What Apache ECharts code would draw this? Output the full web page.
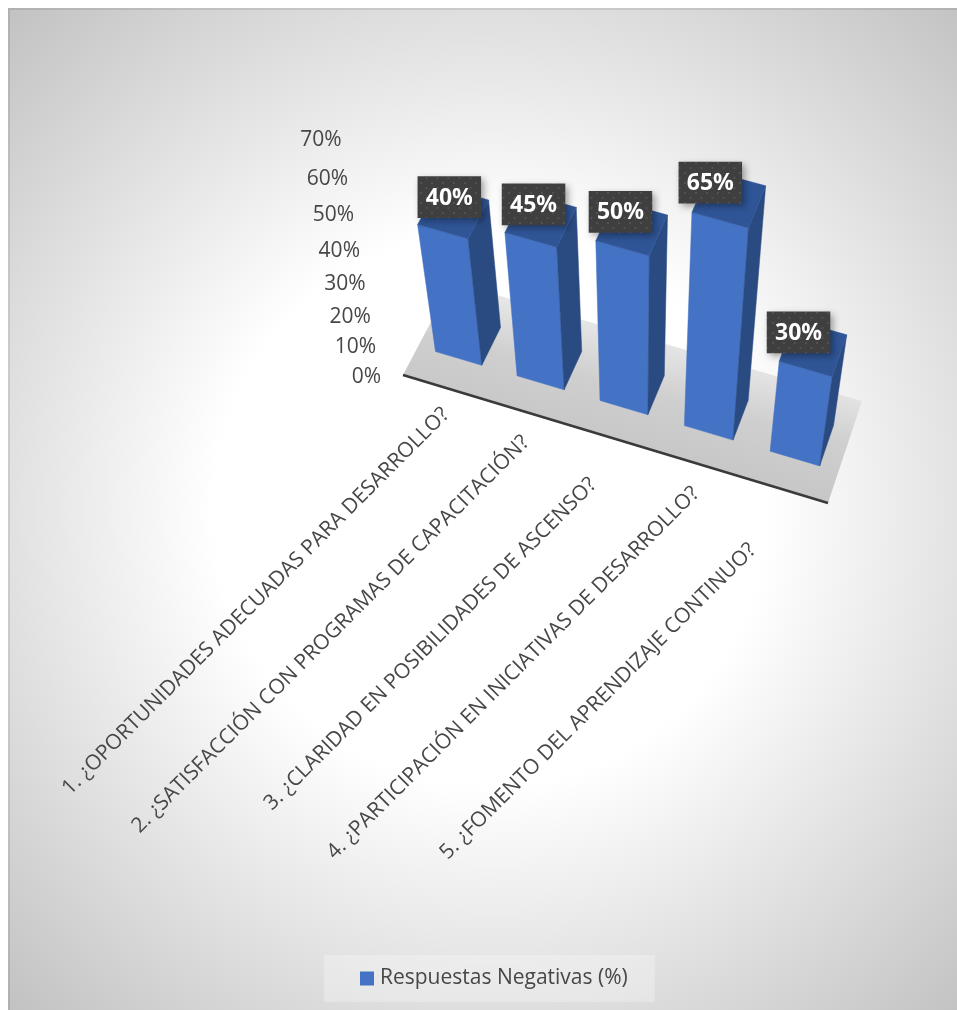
<!DOCTYPE html>
<html>
<head>
<meta charset="utf-8">
<style>
  html, body { margin: 0; padding: 0; background: #fff; }
  #chart { width: 957px; height: 1010px; }
</style>
<script src="https://cdn.jsdelivr.net/npm/echarts@6/dist/echarts.min.js"></script>
</head>
<body>
<div id="chart"></div>
<script>
// Chart data
const seriesName = 'Respuestas Negativas (%)';
const categories = [
  '1. ¿OPORTUNIDADES ADECUADAS PARA DESARROLLO?',
  '2. ¿SATISFACCIÓN CON PROGRAMAS DE CAPACITACIÓN?',
  '3. ¿CLARIDAD EN POSIBILIDADES DE ASCENSO?',
  '4. ¿PARTICIPACIÓN EN INICIATIVAS DE DESARROLLO?',
  '5. ¿FOMENTO DEL APRENDIZAJE CONTINUO?'
];
const negativeShare = [40, 45, 50, 65, 30];
const valueTicks = [0, 10, 20, 30, 40, 50, 60, 70];

// How far each category caption slides down its own slant, in pixels
const captionSlide = [0, 4, 28, 4, 47];
// Small hand placement of the value badges, in pixels
const badgeNudgeX = [0, 0, -1, -5, 1.5];
const badgeNudgeY = [1, 0, -1, -2, -1];

// Perspective camera: floor coordinates u, v and height z (all 0..1) to screen pixels
const CAMERA = [
  [390.61, 67.09, -92.0, 403],
  [107.11, -81.71, -257.0, 375],
  [-0.04153, 0.04003, -0.1446, 1]
];
function project(u, v, z) {
  const w = CAMERA[2][0] * u + CAMERA[2][1] * v + CAMERA[2][2] * z + CAMERA[2][3];
  return [
    (CAMERA[0][0] * u + CAMERA[0][1] * v + CAMERA[0][2] * z + CAMERA[0][3]) / w,
    (CAMERA[1][0] * u + CAMERA[1][1] * v + CAMERA[1][2] * z + CAMERA[1][3]) / w
  ];
}

// Read a category/value pair through the hidden axes, as fractions of the plot box
function toFractions(api, params, index, value) {
  const pt = api.coord([index, value]);
  const box = params.coordSys;
  return {
    u: (pt[0] - box.x) / box.width,
    z: (box.y + box.height - pt[1]) / box.height
  };
}

const BAR_HALF = 0.057;
const BAR_FRONT = 0.30;
const BAR_BACK = 0.70;
const FONT = '"Open Sans", "Noto Sans", sans-serif';
const BADGE_FONT = '"Noto Sans", "Open Sans", sans-serif';
const TEXT_COLOR = '#474747';

function face(points, fill) {
  return {
    type: 'polygon',
    shape: { points: points },
    style: { fill: fill, stroke: fill, lineWidth: 0.5 }
  };
}

function renderFloor() {
  const corners = [project(0, 0, 0), project(1, 0, 0), project(1, 1, 0), project(0, 1, 0)];
  return {
    type: 'group',
    children: [
      {
        type: 'polygon',
        shape: { points: corners },
        style: {
          fill: {
            type: 'linear', global: true,
            x: 640, y: 335, x2: 610, y2: 450,
            colorStops: [
              { offset: 0, color: '#e6e6e6' },
              { offset: 0.45, color: '#cfcfcf' },
              { offset: 1, color: '#c6c6c6' }
            ]
          }
        }
      },
      {
        type: 'line',
        shape: { x1: corners[0][0], y1: corners[0][1], x2: corners[1][0], y2: corners[1][1] },
        style: { stroke: '#3a3a3a', lineWidth: 2.6 }
      }
    ]
  };
}

function renderBar(params, api) {
  const i = api.value(0);
  const f = toFractions(api, params, i, api.value(1));
  const u0 = f.u - BAR_HALF, u1 = f.u + BAR_HALF;
  const top = [
    project(u0, BAR_FRONT, f.z), project(u1, BAR_FRONT, f.z),
    project(u1, BAR_BACK, f.z), project(u0, BAR_BACK, f.z)
  ];
  const foot = [
    project(u0, BAR_FRONT, 0), project(u1, BAR_FRONT, 0), project(u1, BAR_BACK, 0)
  ];
  return {
    type: 'group',
    children: [
      face([top[0], top[1], foot[1], foot[0]], api.visual('color')),
      face([top[1], top[2], foot[2], foot[1]], '#2a4a82'),
      face(top, '#2f5597')
    ]
  };
}

// Dotted fill for the value badges
const dotTile = document.createElement('canvas');
dotTile.width = 11;
dotTile.height = 10;
(function () {
  const ctx = dotTile.getContext('2d');
  ctx.fillStyle = '#3f3f3f';
  ctx.fillRect(0, 0, 11, 10);
  ctx.fillStyle = '#515151';
  ctx.fillRect(2, 2, 2, 2);
  ctx.fillRect(7.5, 7, 2, 2);
})();

function renderBadge(params, api) {
  const i = api.value(0);
  const value = api.value(1);
  const f = toFractions(api, params, i, value);
  const anchor = project(f.u, BAR_FRONT, f.z);
  const cx = anchor[0] + 8.5 - 19 * f.u + badgeNudgeX[i];
  const cy = anchor[1] - 35.5 + badgeNudgeY[i];
  const w = 63.5, h = 41.7;
  return {
    type: 'group',
    children: [
      {
        type: 'rect',
        shape: { x: cx - w / 2, y: cy - h / 2, width: w, height: h },
        style: {
          fill: { image: dotTile, repeat: 'repeat' },
          shadowBlur: 7, shadowOffsetX: 3, shadowOffsetY: 3, shadowColor: 'rgba(0,0,0,0.35)'
        }
      },
      {
        type: 'text',
        x: cx, y: cy + 1,
        style: {
          text: value + '%', fill: '#ffffff',
          font: '700 23px ' + BADGE_FONT, align: 'center', verticalAlign: 'middle'
        }
      }
    ]
  };
}

function renderCaption(params, api) {
  const i = api.value(0);
  const f = toFractions(api, params, i, 0);
  const p = project(f.u, 0, 0);
  const slide = captionSlide[i] * Math.SQRT1_2;
  return {
    type: 'text',
    x: p[0] + 2 - slide,
    y: p[1] + 24 + slide,
    rotation: Math.PI / 4,
    style: {
      text: categories[i], fill: TEXT_COLOR,
      font: '21px ' + FONT, align: 'right', verticalAlign: 'middle'
    }
  };
}

function renderTick(params, api) {
  const value = api.value(0);
  const f = toFractions(api, params, 0, value);
  const p = project(0, 0, f.z);
  return {
    type: 'text',
    x: p[0] - 22,
    y: p[1] + 2,
    style: {
      text: value + '%', fill: TEXT_COLOR,
      font: '21px ' + FONT, align: 'right', verticalAlign: 'middle'
    }
  };
}

const chart = echarts.init(document.getElementById('chart'), null, { renderer: 'canvas' });

chart.setOption({
  animation: false,
  backgroundColor: '#ffffff',
  graphic: [
    {
      type: 'rect', z: -10, silent: true,
      shape: { x: 8, y: 8, width: 949, height: 1002 },
      style: {
        fill: {
          type: 'radial', global: true, x: 490, y: 509, r: 700,
          colorStops: [
            { offset: 0, color: '#ffffff' },
            { offset: 0.394, color: '#ffffff' },
            { offset: 1, color: '#c1c1c1' }
          ]
        }
      }
    },
    {
      type: 'polyline', z: -9, silent: true,
      shape: { points: [[9, 1010], [9, 9], [957, 9]] },
      style: { stroke: 'rgba(0,0,0,0.09)', lineWidth: 2, fill: 'none' }
    }
  ],
  grid: { left: 100, top: 100, width: 500, height: 500 },
  xAxis: { type: 'category', data: categories, show: false },
  yAxis: { type: 'value', min: 0, max: 70, interval: 10, show: false },
  legend: {
    data: [{ name: seriesName, icon: 'rect' }],
    left: 324,
    top: 955,
    padding: [13, 27, 13, 36],
    itemWidth: 14,
    itemHeight: 14,
    itemGap: 0,
    backgroundColor: 'rgba(255,255,255,0.28)',
    selectedMode: false,
    textStyle: { fontFamily: FONT, fontSize: 21, color: TEXT_COLOR, padding: [2, 0, 0, 1] }
  },
  series: [
    {
      type: 'custom', name: 'Piso', z: 1, silent: true,
      renderItem: renderFloor,
      data: [[0]]
    },
    {
      type: 'custom', name: seriesName, z: 2, silent: true,
      itemStyle: { color: '#4472c4' },
      encode: { x: 0, y: 1 },
      renderItem: renderBar,
      data: negativeShare.map((v, i) => [i, v])
    },
    {
      type: 'custom', name: 'Etiquetas', z: 3, silent: true,
      encode: { x: 0, y: 1 },
      renderItem: renderBadge,
      data: negativeShare.map((v, i) => [i, v])
    },
    {
      type: 'custom', name: 'Categorías', z: 3, silent: true,
      renderItem: renderCaption,
      data: categories.map((c, i) => [i])
    },
    {
      type: 'custom', name: 'Escala', z: 3, silent: true,
      renderItem: renderTick,
      data: valueTicks.map(v => [v])
    }
  ]
});
</script>
</body>
</html>
